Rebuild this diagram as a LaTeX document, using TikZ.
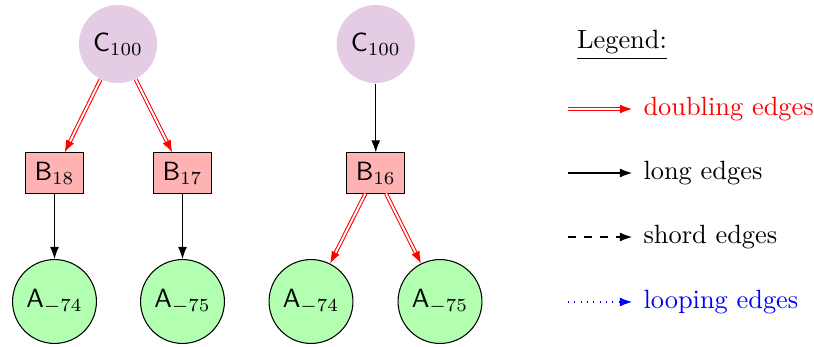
\documentclass[tikz,border=0pt]{standalone}
\usetikzlibrary{arrows.meta}
\begin{document}
\begin{tikzpicture}[x=0.379pt,y=-0.379pt,
  cnode/.style={circle,fill=violet!20,minimum size=29.6pt,inner sep=0pt},
  bnode/.style={rectangle,draw,fill=red!30,minimum width=22pt,minimum height=15.2pt,inner sep=0pt},
  anode/.style={circle,draw,fill=green!30,minimum size=31.8pt,inner sep=0pt},
  tipstyle/.style={-{Latex[length=4.6pt,width=3.4pt]}},
  longedge/.style={tipstyle,black},
  dbledge/.style={tipstyle,draw=red,double=white,double distance=0.7pt},
  shortedge/.style={tipstyle,black,dashed},
  loopedge/.style={tipstyle,blue,dotted},
  legtext/.style={anchor=west,inner sep=0pt}
]
\useasboundingbox (0,0) rectangle (814,347);

% left tree
\node[cnode] (c1) at (118,44) {$\mathsf{C}_{100}$};
\node[bnode] (b18) at (54.5,173) {$\mathsf{B}_{18}$};
\node[bnode] (b17) at (182.5,173) {$\mathsf{B}_{17}$};
\node[anode] (a1) at (54.5,301.5) {$\mathsf{A}_{-74}$};
\node[anode] (a2) at (182.5,301.5) {$\mathsf{A}_{-75}$};
\draw[dbledge] (c1) -- (b18);
\draw[dbledge] (c1) -- (b17);
\draw[longedge] (b18) -- (a1);
\draw[longedge] (b17) -- (a2);

% middle tree
\node[cnode] (c2) at (375.75,44) {$\mathsf{C}_{100}$};
\node[bnode] (b16) at (375.75,173) {$\mathsf{B}_{16}$};
\node[anode] (a3) at (311,301.5) {$\mathsf{A}_{-74}$};
\node[anode] (a4) at (440,301.5) {$\mathsf{A}_{-75}$};
\draw[longedge] (c2) -- (b16);
\draw[dbledge] (b16) -- (a3);
\draw[dbledge] (b16) -- (a4);

% legend
\node[anchor=base] (leg) at (622,49) {\underline{Legend:}};
\coordinate (l1) at (568,109);
\coordinate (l2) at (568,173);
\coordinate (l3) at (568,237);
\coordinate (l4) at (568,302);
\node[legtext,text=red] (t1) at (643,109) {doubling edges};
\node[legtext] (t2) at (643,173) {long edges};
\node[legtext] (t3) at (643,237) {shord edges};
\node[legtext,text=blue] (t4) at (643,302) {looping edges};
\draw[dbledge,shorten >=11*0.379pt] (l1) -- (t1.west);
\draw[longedge,shorten >=11*0.379pt] (l2) -- (t2.west);
\draw[shortedge,shorten >=11*0.379pt] (l3) -- (t3.west);
\draw[loopedge,shorten >=11*0.379pt] (l4) -- (t4.west);
\end{tikzpicture}
\end{document}
